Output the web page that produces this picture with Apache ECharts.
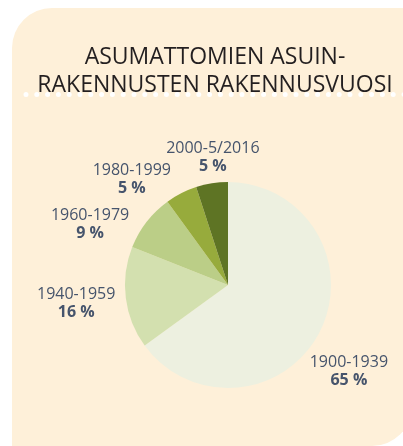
<!DOCTYPE html>
<html>
<head>
<meta charset="utf-8">
<script src="https://cdn.jsdelivr.net/npm/echarts@6/dist/echarts.min.js"></script>
<style>
  html, body { margin: 0; padding: 0; background: #fff; }
  #chart { width: 403px; height: 446px; }
</style>
</head>
<body>
<div id="chart"></div>
<script>
// rakennusvuosi -> osuus asumattomista asuinrakennuksista (%)
const periods = ['1900-1939', '1940-1959', '1960-1979', '1980-1999', '2000-5/2016'];
const shares = [65, 16, 9, 5, 5];
const sliceColors = ['#EDF0E0', '#D3E0AF', '#BBCE87', '#97AB3C', '#5E7424'];

// käsin siirretyt nimiöt (kuten alkuperäisessä taitossa)
const labelNudge = [[-11, 19], [-5, 0], [-21, 30], [-29, 26], [8, 19]];

const cx = 228, cy = 285, r = 103, labelDist = 148;
const total = shares.reduce((a, b) => a + b, 0);
const midAngles = [];
let acc = 0;
shares.forEach(v => {
  midAngles.push(90 - (acc + v / 2) / total * 360);
  acc += v;
});

const chart = echarts.init(document.getElementById('chart'), null, { renderer: 'canvas' });

chart.setOption({
  animation: false,
  backgroundColor: '#fff',
  title: {
    text: 'ASUMATTOMIEN ASUIN-\nRAKENNUSTEN RAKENNUSVUOSI',
    left: 210,
    top: 38,
    textAlign: 'center',
    textStyle: {
      fontFamily: 'Open Sans',
      fontSize: 23,
      fontWeight: 'normal',
      color: '#231F20',
      lineHeight: 28
    }
  },
  graphic: [
    {
      type: 'rect',
      z: -10,
      shape: { x: 12, y: 8, width: 400, height: 438, r: [40, 0, 40, 0] },
      style: { fill: '#FEF0D9' }
    },
    {
      type: 'line',
      z: -5,
      shape: { x1: 26, y1: 94.5, x2: 410, y2: 94.5 },
      style: { stroke: '#fff', lineWidth: 5, lineCap: 'round', lineDash: [0, 10.8] }
    }
  ],
  series: [{
    type: 'pie',
    center: [cx, cy],
    radius: r,
    startAngle: 90,
    clockwise: true,
    silent: true,
    avoidLabelOverlap: false,
    data: periods.map((p, i) => ({
      name: p,
      value: shares[i],
      itemStyle: { color: sliceColors[i] }
    })),
    label: {
      show: true,
      position: 'outside',
      align: 'center',
      formatter: p => `{a|${p.name}}\n{b|${p.value} %}`,
      rich: {
        a: { fontFamily: 'Open Sans', fontSize: 16, lineHeight: 18, color: '#46546C' },
        b: { fontFamily: 'Open Sans', fontSize: 16, lineHeight: 18, fontWeight: 'bold', color: '#46546C' }
      }
    },
    labelLine: { show: false },
    labelLayout: p => {
      const a = midAngles[p.dataIndex] * Math.PI / 180;
      const n = labelNudge[p.dataIndex];
      return {
        x: cx + labelDist * Math.cos(a) + n[0],
        y: cy - labelDist * Math.sin(a) + n[1],
        align: 'center',
        verticalAlign: 'middle'
      };
    }
  }]
});
</script>
</body>
</html>
